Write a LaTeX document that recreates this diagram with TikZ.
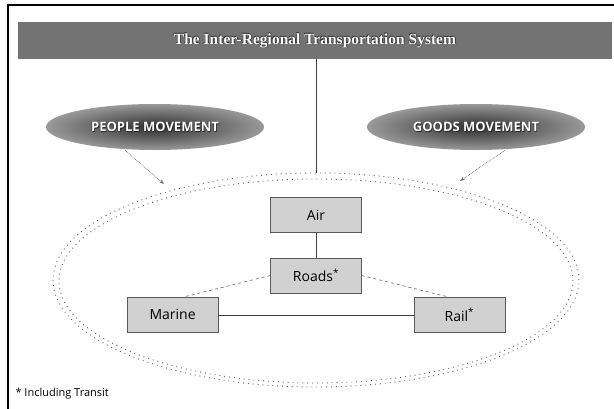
\documentclass[tikz,border=0pt]{standalone}
\usepackage{fontspec}
\setmainfont{Liberation Serif}
\setsansfont{Open Sans}
\usetikzlibrary{arrows.meta,shapes.geometric}

% white text with a dark outline, as on the banner
\newcommand{\embossed}[1]{\leavevmode\rlap{\hspace{0.7pt}\raisebox{-0.7pt}{\color{black!85}#1}}\rlap{\hspace{-0.4pt}\raisebox{0.4pt}{\color{black!85}#1}}{\color{white}#1}}

\begin{document}
\begin{tikzpicture}[x=1pt,y=-1pt,
modebox/.style={
% The boxes of the modes:
rectangle,
draw=black!65,
fill=black!18,
minimum width=91pt,
minimum height=35pt,
font=\sffamily\fontsize{14}{16}\selectfont
},
movement/.style={
ellipse,inner color=black!82,outer color=black!40,
minimum width=218pt,minimum height=46pt,
font=\sffamily\bfseries\fontsize{13}{15}\selectfont
},
link/.style={draw=black!75,line width=0.6pt},
ring/.style={draw=black!65,loosely dotted,line width=0.9pt},
arrowline/.style={draw=black!60,densely dotted,line width=0.7pt,-{Stealth[length=5pt,width=3.5pt]}}
]
\useasboundingbox (0,0) rectangle (614,409);
\draw[line width=1.2pt] (8,409) -- (8,5) -- (614,5);
\node (title) [rectangle,fill=black!55,minimum width=594pt,minimum height=37pt,font=\bfseries\fontsize{15.5}{18}\selectfont] at (315,40.5) {\embossed{The Inter-Regional Transportation System}};
\node (people) [movement] at (155,127) {\embossed{PEOPLE MOVEMENT}};
\node (goods) [movement] at (476,127) {\embossed{GOODS MOVEMENT}};
\matrix (modes) [row sep=4pt,column sep=52pt] at (316,265) {
% First row:
& \node (air) [modebox] {Air}; & \\[21pt]
& \node (roads) [modebox] {Roads\textsuperscript{*}}; & \\
\node (marine) [modebox] {Marine}; & & \node (rail) [modebox] {Rail\textsuperscript{*}}; \\
};
\draw[ring] (316,280) ellipse [x radius=263pt,y radius=107pt];
\draw[ring] (316,281) ellipse [x radius=257pt,y radius=102pt];
\coordinate (ringtop) at (316,173);
\coordinate (peoplehead) at (164,184);
\coordinate (goodshead) at (460,181);
\draw[link] (title.south -| air.north) -- (ringtop);
\path (air) edge[link] (roads) (marine) edge[link] (rail);
\draw[link,dashed,draw=black!60] (roads.west) -- ([xshift=10pt]marine.north);
\draw[link,dashed,draw=black!60] (roads.east) -- ([xshift=-10pt]rail.north);
\draw[arrowline] ([xshift=-30pt]people.south) -- (peoplehead);
\draw[arrowline] ([xshift=29pt]goods.south) -- (goodshead);
\node (note) [anchor=west,font=\sffamily\fontsize{11}{13}\selectfont] at (12,394) {* Including Transit};
\end{tikzpicture}
\end{document}
